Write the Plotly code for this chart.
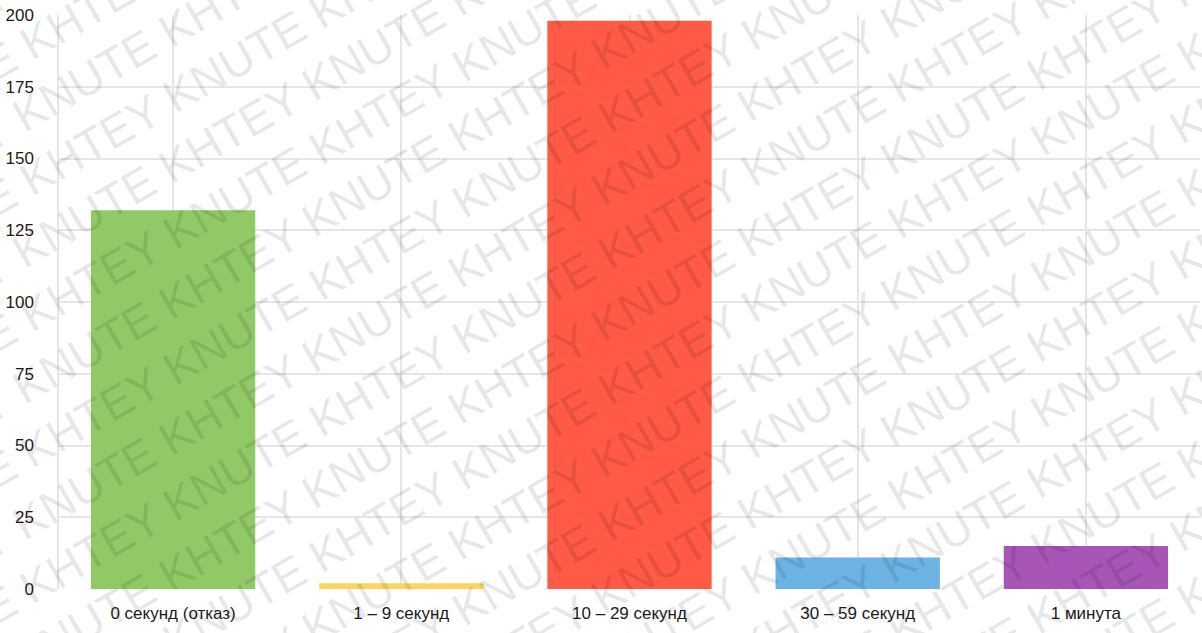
import plotly.graph_objects as go
import math

categories = ["0 секунд (отказ)", "1 – 9 секунд", "10 – 29 секунд", "30 – 59 секунд", "1 минута"]
values = [132, 2, 198, 11, 15]
colors = ["#91c966", "#fdd45c", "#fe5a45", "#6cb2e4", "#a755b6"]
y_ticks = [0, 25, 50, 75, 100, 125, 150, 175, 200]

W, H = 1202, 633
ML, MR, MT, MB = 59, 2, 15, 44

fig = go.Figure()
fig.add_trace(go.Bar(x=categories, y=values, marker=dict(color=colors, line=dict(width=0)),
                     hoverinfo="x+y"))

# watermark lines
wm_text = "KNUTE KHTEY " * 9
angle = 30
ca, sa = math.cos(math.radians(angle)), math.sin(math.radians(angle))
pw, ph = W - ML - MR, H - MT - MB
anns = []
step = 68
for i in range(-8, 18):
    shift = (i % 2) * 160  # shift along the line direction
    cx = 601 + shift * ca
    cy = -150 + i * step - shift * sa
    anns.append(dict(
        text=wm_text, xref="paper", yref="paper",
        x=(cx - ML) / pw, y=1 - (cy - MT) / ph,
        xanchor="center", yanchor="middle",
        showarrow=False, textangle=-angle,
        font=dict(family="Liberation Sans, Arial, sans-serif", size=46, color="rgba(0,0,0,0.11)"),
    ))

fig.update_layout(
    width=W, height=H,
    margin=dict(l=ML, r=MR, t=MT, b=MB, pad=0),
    plot_bgcolor="white", paper_bgcolor="white",
    bargap=0.28, showlegend=False,
    font=dict(family="Liberation Sans, Arial, sans-serif", size=17, color="#222222"),
    annotations=anns,
    xaxis=dict(showgrid=True, gridcolor="#e6e6e6", gridwidth=1.5, ticks="",
               ticklabelstandoff=12, tickfont=dict(size=17, color="#1a1a1a"),
               showline=False, zeroline=False, fixedrange=True),
    yaxis=dict(range=[0, 200], tickvals=y_ticks, showgrid=True, gridcolor="#e6e6e6",
               gridwidth=1.5, zeroline=False, showline=True, linecolor="#e6e6e6", linewidth=1.5,
               ticks="", ticklabelstandoff=20, tickfont=dict(size=17, color="#1a1a1a"),
               fixedrange=True),
)

fig.write_html("out.html")
